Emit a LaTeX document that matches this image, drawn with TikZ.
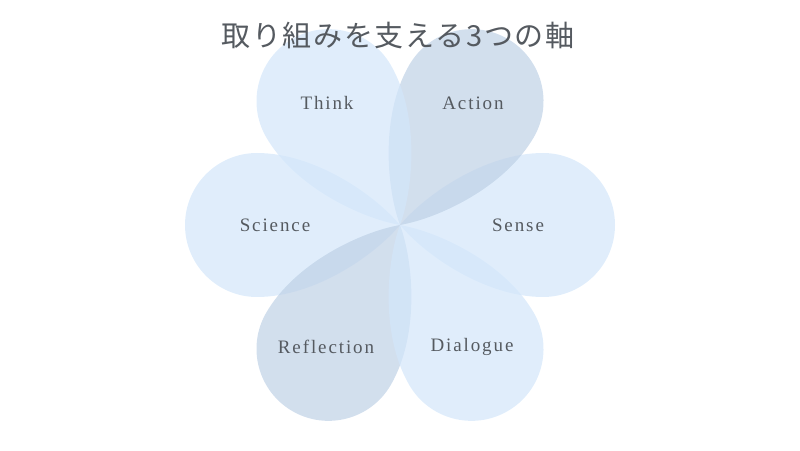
\documentclass[tikz,border=0pt]{standalone}
\usepackage{fontspec}
\setmainfont{Liberation Serif}
\newfontfamily\jpfont{Noto Sans CJK JP}
\usepackage{xcolor}
\definecolor{petalblue}{HTML}{D3E6FA}
\definecolor{petalgray}{HTML}{BFD1E6}
\definecolor{textgray}{HTML}{555A60}

\tikzset{
    petal/.style={fill=#1, fill opacity=0.7, draw=none},
    label/.style={text=textgray, font=\fontsize{19}{22}\selectfont\addfontfeature{LetterSpace=10}},
}

\begin{document}
\begin{tikzpicture}[x=1pt, y=1pt]
    \useasboundingbox (0,0) rectangle (800,450);
    \coordinate (Center) at (400,225);

    % Draw the six petals
    \foreach \ang/\col in {0/petalblue, 60/petalgray, 120/petalblue, 180/petalblue, 240/petalgray, 300/petalblue}
        \fill[petal=\col, shift={(Center)}, rotate=\ang]
            (0,0) .. controls (25,30) and (85,72) .. (143,72)
            arc[start angle=90, end angle=-90, radius=72]
            .. controls (85,-72) and (25,-30) .. (0,0) -- cycle;

    % Labels of the petals
    \node[label] (Think) at (327,347) {Think};
    \node[label] (Action) at (473,347) {Action};
    \node[label] (Science) at (275,225) {Science};
    \node[label] (Sense) at (518,225) {Sense};
    \node[label] (Reflection) at (326,103) {Reflection};
    \node[label] (Dialogue) at (472,103) {Dialogue};

    % Title
    \node[text=textgray, font=\jpfont\fontsize{29}{34}\selectfont\addfontfeature{LetterSpace=6}] (Title) at (398,414) {取り組みを支える3つの軸};
\end{tikzpicture}
\end{document}
